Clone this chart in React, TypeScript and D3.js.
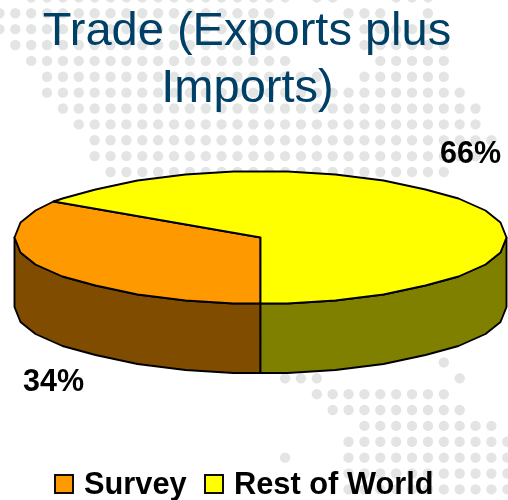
import React from "react";
import * as d3 from "d3";

const categories = ["Survey", "Rest of World"];
const shares = [34, 66];
const shareLabels = ["34%", "66%"];
const topColors = ["#FF9900", "#FFFF00"];
const wallColors = ["#804D00", "#808000"];
const titleLines = ["Trade (Exports plus", "Imports)"];
// background dot map: [row, first column, last column]
const dotRuns: [number, number, number][] = [
  [-1, 1, 17], [-1, 19, 20], [-1, 24, 26],
  [0, -1, 16], [0, 21, 23], [0, 26, 26],
  [1, -1, 16], [1, 22, 26],
  [2, 0, 16], [2, 22, 27],
  [3, 1, 17], [3, 23, 27],
  [4, 2, 19], [4, 22, 27],
  [5, 2, 28], [6, 3, 29], [7, 4, 29], [8, 5, 30], [9, 5, 29], [10, 6, 27],
  [22, 27, 27],
  [23, 17, 19], [23, 28, 28],
  [24, 19, 27], [25, 20, 28], [26, 22, 30],
  [27, 21, 31], [28, 17, 17], [28, 21, 31], [29, 21, 31], [30, 21, 31],
];

const W = 508, H = 500;
const cx = 260.5, cy = 237.5, rx = 246.5, ry = 65, depth = 69.5, snapStep = 3;
const chord = Math.PI / 15; // rim is drawn as a coarse polygon, like the reference

const dotX = d3.scaleLinear().domain([0, 1]).range([15.3, 31.17]);
const dotY = d3.scaleLinear().domain([0, 1]).range([13.3, 29.17]);
const dots = dotRuns.flatMap(([row, a, b]) =>
  d3.range(a, b + 1).map((col) => ({ x: dotX(col), y: dotY(row) }))
);

const slices = d3.pie<number>().sort(null).startAngle(Math.PI).endAngle(3 * Math.PI)(shares);

const snap = (v: number) => Math.round(v / snapStep) * snapStep;
const rim = (a: number, dy = 0): [number, number] => [
  cx + snap(Math.sin(a) * rx),
  cy + snap(-Math.cos(a) * ry) + dy,
];
// vertices on a fixed angular grid, half a chord off the axes, plus both ends
const sweep = (a0: number, a1: number) => {
  const first = Math.ceil((a0 - chord / 2) / chord + 1e-6);
  const last = Math.floor((a1 - chord / 2) / chord - 1e-6);
  return [a0, ...d3.range(first, last + 1).map((k) => k * chord + chord / 2), a1];
};
const line = d3.line<[number, number]>().curve(d3.curveLinear);

const topPath = (a0: number, a1: number) =>
  line([[cx, cy], ...sweep(a0, a1).map((a) => rim(a))])! + "Z";
const wallPath = (a0: number, a1: number) => {
  const as = sweep(a0, a1);
  return line([...as.map((a) => rim(a)), ...as.slice().reverse().map((a) => rim(a, depth))])! + "Z";
};
// wall spans only the front half of the pie (90° to 270° clockwise from the top)
const wallRanges: [number, number][] = [
  [Math.PI, 1.5 * Math.PI],
  [Math.PI / 2, Math.PI],
];

const font = "'Liberation Sans', Arial, sans-serif";
const legendX = [55, 205];
const legendTextX = [84, 234];

export default function App() {
  return (
    <svg width={W} height={H} viewBox={`0 0 ${W} ${H}`} style={{ position: "absolute", left: 0, top: 0, background: "#fff" }}>
      <defs>
        <filter id="soft" x="-2%" y="-2%" width="104%" height="104%">
          <feGaussianBlur stdDeviation="0.4" />
        </filter>
      </defs>
      <g filter="url(#soft)">
        <g fill="#E3E5E5">
          {dots.map((d, i) => (
            <circle key={i} cx={d.x} cy={d.y} r={5.2} />
          ))}
        </g>
        <g fontFamily={font} fill="#003F66" fontSize={47} textAnchor="middle">
          <text x={247} y={44.5}>{titleLines[0]}</text>
          <text x={247.5} y={102}>{titleLines[1]}</text>
        </g>
        <g stroke="#000" strokeWidth={1.9} strokeLinejoin="round">
          {wallRanges.map((r, i) => (
            <path key={i} d={wallPath(r[0], r[1])} fill={wallColors[i]} />
          ))}
          {slices.map((s, i) => (
            <path key={i} d={topPath(s.startAngle, s.endAngle)} fill={topColors[i]} />
          ))}
        </g>
        <g fontFamily={font} fontWeight="bold" fontSize={30.5} fill="#000">
          <text x={23} y={391}>{shareLabels[0]}</text>
          <text x={440} y={163}>{shareLabels[1]}</text>
        </g>
        {categories.map((c, i) => (
          <g key={c}>
            <rect x={legendX[i]} y={475} width={18} height={18} fill={topColors[i]} stroke="#000" strokeWidth={1.9} />
            <text x={legendTextX[i]} y={494} fontFamily={font} fontWeight="bold" fontSize={30.8} fill="#000">{c}</text>
          </g>
        ))}
      </g>
    </svg>
  );
}
